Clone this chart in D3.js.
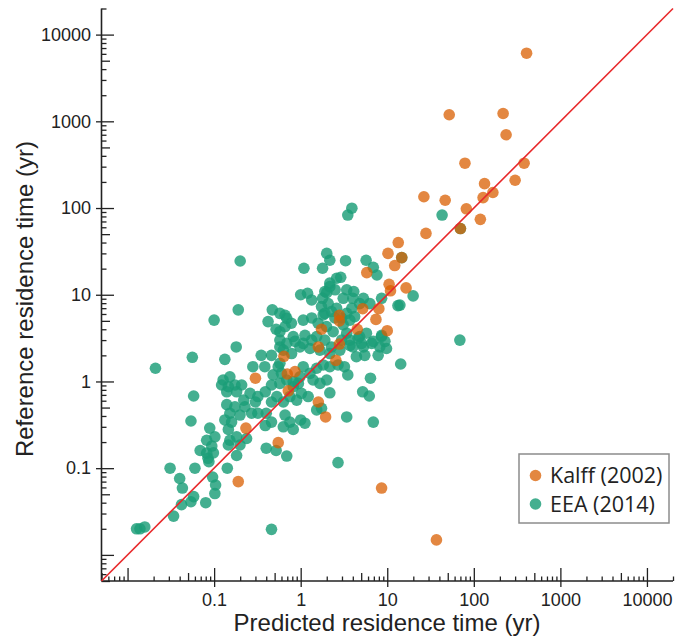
<!DOCTYPE html>
<html lang="en">
    <head>
        <meta charset="utf-8">
        <title>Residence time</title>
        <script src="https://d3js.org/d3.v7.min.js"></script>
        <style type="text/css">
            body { margin: 0; background: #fff; }
            .tick text { font-family: "Liberation Sans", Arial, sans-serif; font-size: 18px; fill: #222; }
            .title { font-family: "Liberation Sans", Arial, sans-serif; font-size: 24px; fill: #222; }
            .legend { font-family: "Open Sans", sans-serif; font-size: 21.5px; fill: #222; }
        </style>
    </head>
    <body>
        <script type="text/javascript">

            //Data: [predicted, reference] residence time (yr)
            const kalff = [
                [407,6100],[52,1190],[218,1230],[236,700],[79,329],[381,329],[300,209],[133,191],
                [166,151],[128,132],[26.5,135],[46.7,123],[82,98],[119,74],[70,58],[28,51],
                [13.4,40],[10.2,30],[14.7,26.8],[12.2,21.7],[5.8,18],[10.5,13.2],[10.9,11.1],[16.5,12],
                [7.4,5.2],[5.2,6.9],[8.0,6.9],[10,3.85],[2.8,5.8],[2.8,5.0],[1.74,4.0],[4.5,4.0],
                [2.8,2.7],[1.6,2.5],[0.64,1.95],[0.70,1.22],[0.86,1.30],[0.72,0.78],[1.6,0.58],[1.94,0.39],
                [2.55,1.75],[0.55,0.197],[0.30,1.09],[0.233,0.29],[0.19,0.07],[8.6,0.059],[37,0.0149]
            ];

            const eea = [
                [0.2,24.5],[1.09,20.2],[2.0,30],[2.17,25],[1.79,20.2],[1.0,10],[1.2,10.4],[1.34,8.7],
                [0.19,6.7],[0.47,6.7],[0.66,5.8],[0.10,5.1],[1.9,10.9],[2.17,12.4],[2.6,15.5],[1.74,7.3],[1.9,6.1],
                [0.18,2.5],[0.056,1.9],[0.133,1.8],[0.42,4.9],[0.52,4.0],[0.35,2.0],[0.46,2.0],[0.575,2.5],
                [3.3,24.7],[5.7,25],[6.9,20.7],[7.6,16.9],[2.9,15.9],[2.17,13.6],[2.5,11.4],[2.0,10.6],
                [3.4,11.4],[4.1,10.9],[4.0,9.1],[1.79,9.1],[2.08,7.9],[2.6,7.0],[3.1,9.1],[3.9,7.0],
                [5.3,9.1],[6.3,7.9],[8.6,9.1],[13.3,7.5],[19.9,9.7],[0.575,6.1],[0.69,5.35],[0.78,4.7],
                [0.66,4.3],[0.575,3.75],[1.07,5.1],[1.34,5.4],[1.59,4.7],[1.82,5.85],[2.27,6.4],[2.48,5.4],
                [1.99,4.3],[2.37,3.75],[2.97,5.4],[3.1,4.5],[3.7,5.1],[4.2,5.6],
                [0.82,3.3],[1.12,3.4],[1.34,3.0],[0.98,2.5],[1.28,2.4],[1.9,3.0],[2.27,2.5],[3.4,3.6],
                [3.7,3.0],[4.8,3.3],[5.75,3.6],[6.6,2.75],[8.6,3.3],[8.2,2.5],[9.8,2.4],[5.5,2.0],[7.85,2.0],[14,7.6],
                [0.021,1.42],[0.28,1.48],[0.385,1.48],[0.48,1.19],[0.55,1.48],
                [0.127,1.04],[0.152,1.13],[0.122,0.91],[0.146,0.87],[0.174,0.91],[0.208,0.91],[0.182,0.76],[0.14,0.76],
                [0.26,0.73],[0.32,0.67],[0.39,0.76],[0.46,0.91],[0.53,0.67],[0.3,0.58],[0.22,0.61],[0.46,0.58],
                [0.058,0.68],
                [0.14,0.54],[0.174,0.51],[0.152,0.43],[0.199,0.41],[0.159,0.34],[0.133,0.36],[0.227,0.51],[0.271,0.43],
                [0.32,0.43],[0.40,0.43],[0.46,0.34],[0.39,0.31],[0.054,0.35],
                [0.089,0.29],[0.102,0.23],[0.082,0.21],[0.094,0.18],[0.069,0.16],[0.085,0.13],[0.146,0.28],[0.152,0.21],
                [0.146,0.185],[0.182,0.23],[0.199,0.185],[0.182,0.14],[0.237,0.22],[0.40,0.17],
                [0.031,0.10],[0.06,0.10],[0.142,0.10],[0.040,0.076],[0.096,0.079],[0.043,0.059],
                [0.034,0.028],[0.042,0.038],[0.054,0.041],[0.058,0.047],[0.080,0.04],
                [0.104,0.064],[0.102,0.051],[0.098,0.15],[0.082,0.149],[0.087,0.119],
                [0.0139,0.020],[0.0158,0.021],[0.0127,0.020],
                [0.46,0.0197],[0.69,0.138],[0.52,0.16],[2.7,0.116],
                [14.3,1.59],[6.4,1.09],[5.2,0.76],[6.2,0.68],[3.4,0.39],[6.9,0.34],[2.17,0.74],[1.74,0.49],
                [1.0,0.36],[1.12,0.33],[0.66,0.41],[0.75,0.34],[0.82,0.28],[0.63,0.30],
                [3.5,1.19],[3.2,1.48],[2.7,1.55],[2.17,1.48],[1.82,1.55],[1.53,1.42],[1.28,1.24],[1.07,1.48],
                [0.98,1.13],[0.82,1.0],[1.39,1.04],[1.67,0.95],[2.0,1.04],
                [1.02,0.73],[1.22,0.67],[0.9,0.61],[0.63,0.58],[0.75,0.67],[1.53,0.47],
                [69,3.0],[6.9,2.9],[8.6,3.4],[9.4,2.9],
                [3.9,99.5],[3.5,83],[43,83],[70,58],[14.7,26.8],
                [0.575,3.0],[0.69,2.75],[0.86,2.9],[0.63,2.3],[0.785,2.1],[1.07,2.75],[1.53,3.3],[1.67,2.3],
                [2.17,2.1],[2.97,3.0],[2.84,2.3],[4.0,2.5],[5.3,2.5],[4.4,1.93],
                [0.575,1.62],[0.6,1.24],[0.575,0.95],[0.82,0.87],[0.94,0.95],[0.69,1.04],
                [4.8,7.9],[3.4,6.1],[4.6,3.15],[5.05,2.75],[3.7,2.6]
            ];

            const series = ["Kalff (2002)", "EEA (2014)"];
            const colors = ["#d95f02", "#1b9e77"];
            const opac = [0.75, 0.82];

            const domain = [0.005, 20000];
            const xMajor = [0.1, 1, 10, 100, 1000, 10000];
            const xLabels = ["0.1", "1", "10", "100", "1000", "10000"];
            const yMajor = [0.1, 1, 10, 100, 1000, 10000];
            const yLabels = ["0.1", "1", "10", "100", "1000", "10000"];
            const unlabelled = [0.01];

            //declare consts
            const w = 675;
            const h = 636;
            const margin = {left: 101.5, right: 2, top: 8.5, bottom: 55};
            const r = 5.8;

            const svg = d3.select("body")
                .append("svg")
                .attr("width", w)
                .attr("height", h);

            const x = d3.scaleLog().domain(domain).range([margin.left, w - margin.right]);
            const y = d3.scaleLog().domain(domain).range([h - margin.bottom, margin.top]);

            //minor ticks from the scale, split into the 5s and the rest
            const lead = d => Math.round(d / Math.pow(10, Math.floor(Math.log10(d) + 1e-9)));
            const minorX = x.ticks().filter(d => lead(d) !== 1);
            const minorY = y.ticks().filter(d => lead(d) !== 1);

            const x0 = h - margin.bottom;
            const y0 = margin.left;

            const clean = g => {
                g.select(".domain").remove();
                g.selectAll(".tick line").attr("stroke", "#222").attr("stroke-width", 1.3);
            };

            //x axis
            svg.append("g").attr("transform", "translate(0," + x0 + ")")
                .call(d3.axisTop(x).tickValues(minorX.filter(d => lead(d) !== 5)).tickSize(4.5).tickFormat(""))
                .call(clean);
            svg.append("g").attr("transform", "translate(0," + x0 + ")")
                .call(d3.axisTop(x).tickValues(minorX.filter(d => lead(d) === 5)).tickSize(8).tickFormat(""))
                .call(clean);
            svg.append("g").attr("transform", "translate(0," + x0 + ")")
                .call(d3.axisTop(x).tickValues(unlabelled.concat(xMajor)).tickSize(13).tickFormat(""))
                .call(clean);
            svg.append("g").attr("transform", "translate(0," + x0 + ")")
                .call(d3.axisBottom(x).tickValues(xMajor).tickSize(6).tickPadding(6)
                    .tickFormat((d, i) => xLabels[i]))
                .call(clean);

            //y axis
            svg.append("g").attr("transform", "translate(" + y0 + ",0)")
                .call(d3.axisRight(y).tickValues(minorY.filter(d => lead(d) !== 5)).tickSize(5).tickFormat(""))
                .call(clean);
            svg.append("g").attr("transform", "translate(" + y0 + ",0)")
                .call(d3.axisRight(y).tickValues(minorY.filter(d => lead(d) === 5)).tickSize(8.5).tickFormat(""))
                .call(clean);
            svg.append("g").attr("transform", "translate(" + y0 + ",0)")
                .call(d3.axisRight(y).tickValues(unlabelled.concat(yMajor)).tickSize(12.5).tickFormat(""))
                .call(clean);
            svg.append("g").attr("transform", "translate(" + y0 + ",0)")
                .call(d3.axisLeft(y).tickValues(yMajor).tickSize(5.5).tickPadding(5)
                    .tickFormat((d, i) => yLabels[i]))
                .call(clean);

            //axis lines
            svg.append("line")
                .attr("x1", x(domain[0])).attr("x2", x(domain[1]))
                .attr("y1", x0).attr("y2", x0)
                .attr("stroke", "#222").attr("stroke-width", 1.6);
            svg.append("line")
                .attr("x1", y0).attr("x2", y0)
                .attr("y1", y(domain[0])).attr("y2", y(domain[1]))
                .attr("stroke", "#222").attr("stroke-width", 1.6);

            //points
            svg.append("g").selectAll("circle")
                .data(eea)
                .enter()
                .append("circle")
                .attr("cx", d => x(d[0]))
                .attr("cy", d => y(d[1]))
                .attr("r", r)
                .attr("fill", colors[1])
                .attr("fill-opacity", opac[1]);

            svg.append("g").selectAll("circle")
                .data(kalff)
                .enter()
                .append("circle")
                .attr("cx", d => x(d[0]))
                .attr("cy", d => y(d[1]))
                .attr("r", r)
                .attr("fill", colors[0])
                .attr("fill-opacity", opac[0]);

            //1:1 line
            svg.append("line")
                .attr("x1", x(domain[0])).attr("y1", y(domain[0]))
                .attr("x2", x(domain[1])).attr("y2", y(domain[1]))
                .attr("stroke", "#e8282a")
                .attr("stroke-width", 1.6);

            //axis titles
            svg.append("text")
                .attr("class", "title")
                .attr("x", 387)
                .attr("y", 631)
                .attr("text-anchor", "middle")
                .text("Predicted residence time (yr)");

            svg.append("text")
                .attr("class", "title")
                .attr("transform", "translate(33,299) rotate(-90)")
                .attr("text-anchor", "middle")
                .text("Reference residence time (yr)");

            //legend
            const lg = svg.append("g").attr("transform", "translate(519,454)");
            lg.append("rect")
                .attr("width", 150).attr("height", 69)
                .attr("fill", "#fff")
                .attr("stroke", "#8c8c8c")
                .attr("stroke-width", 1.5);
            series.forEach((s, i) => {
                lg.append("circle")
                    .attr("cx", 16.5).attr("cy", 21.5 + i * 28.5)
                    .attr("r", r)
                    .attr("fill", colors[i])
                    .attr("fill-opacity", opac[i]);
                lg.append("text")
                    .attr("class", "legend")
                    .attr("x", 31).attr("y", 29 + i * 28.5)
                    .text(s);
            });

        </script>
    </body>
</html>
